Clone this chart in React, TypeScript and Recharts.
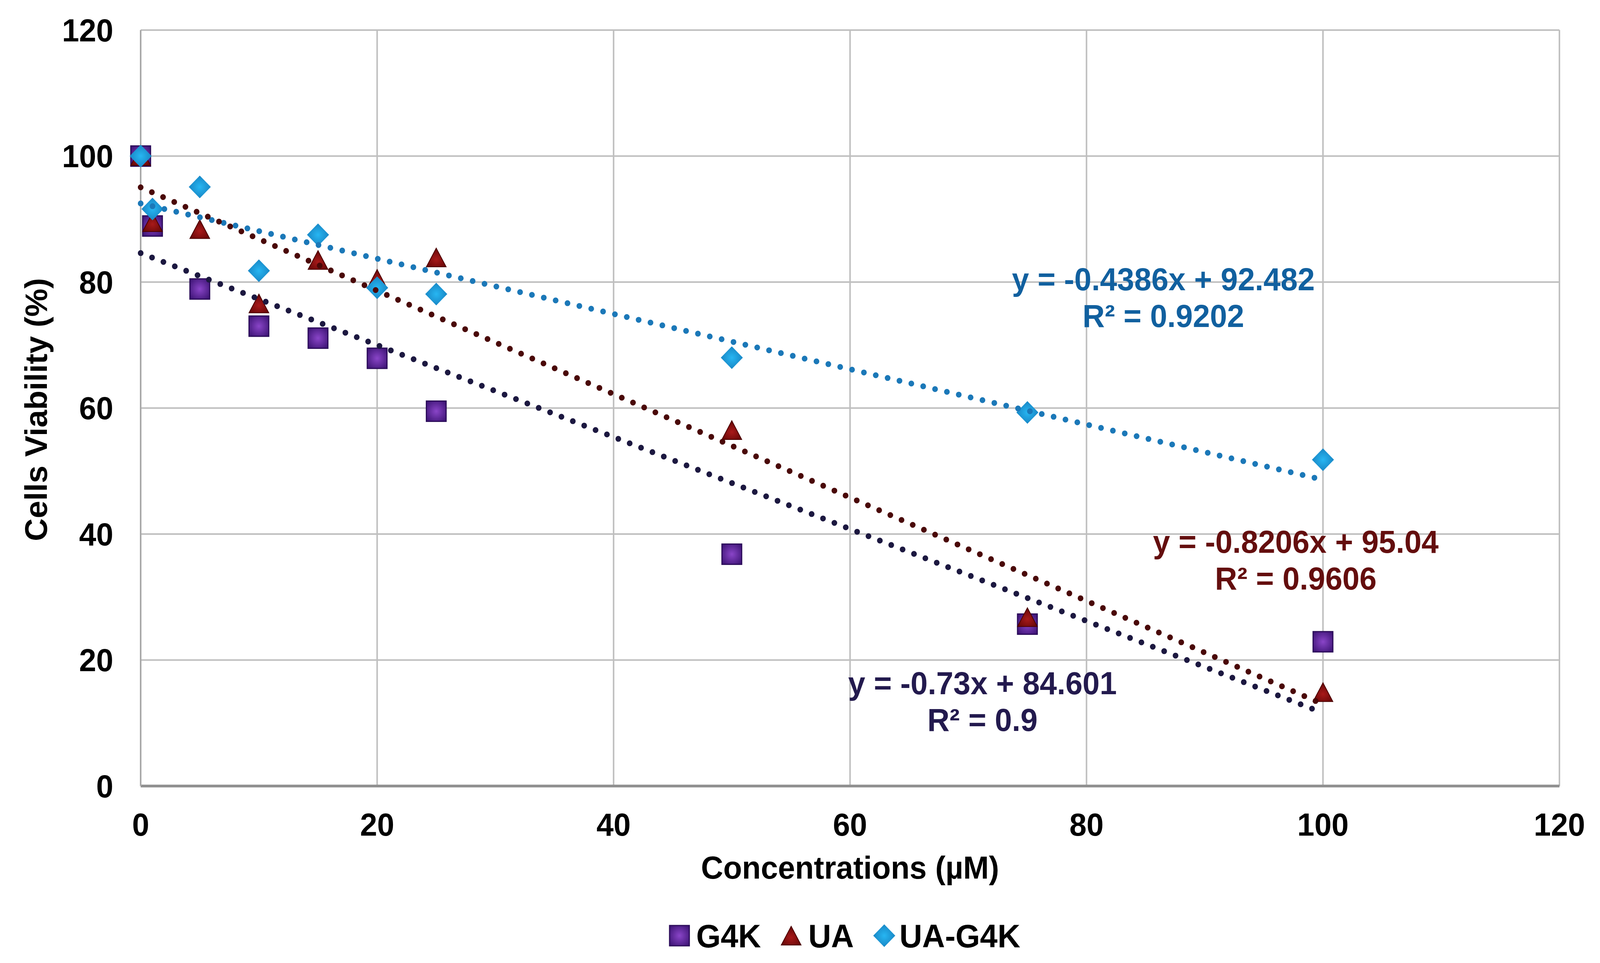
import React from "react";
import {
  ScatterChart,
  Scatter,
  XAxis,
  YAxis,
  CartesianGrid,
  ReferenceDot,
  Label,
} from "recharts";

// concentrations (µM)
const CONC = [0, 1, 5, 10, 15, 20, 25, 50, 75, 100];

// cell viability (%)
const G4K = [100, 88.9, 78.9, 73.0, 71.1, 67.9, 59.5, 36.8, 25.7, 22.9];
const UA = [100, 89.5, 88.4, 76.6, 83.5, 80.5, 83.9, 56.5, 26.8, 14.9];
const UA_G4K = [100, 91.6, 95.1, 81.8, 87.5, 79.1, 78.1, 68.0, 59.3, 51.8];

// linear trendline ends (x = 0 and x = 100)
const TREND_X = [0, 100];
const G4K_TREND = [84.6, 11.6];
const UA_TREND = [95.04, 12.98];
const UA_G4K_TREND = [92.48, 48.62];

const TICKS = [0, 20, 40, 60, 80, 100, 120];

const EQUATIONS = [
  { x: 86.5, y: 80.5, line1: "y = -0.4386x + 92.482", line2: "R² = 0.9202", color: "#11609f" },
  { x: 97.7, y: 38.8, line1: "y = -0.8206x + 95.04", line2: "R² = 0.9606", color: "#640e0e" },
  { x: 71.2, y: 16.4, line1: "y = -0.73x + 84.601", line2: "R² = 0.9", color: "#231a4e" },
];

const FONT = "'Liberation Sans', Arial, Helvetica, sans-serif";
const W = 4195;
const H = 2449;
// the captured page is narrower than the layout; squeeze horizontally so the whole chart shows
const SQUEEZE = 4096 / 4211;

const toPoints = (xs: number[], ys: number[]) => xs.map((x, i) => ({ x, y: ys[i] }));

function Gradients() {
  return (
    <defs>
      <radialGradient id="gSquare" cx="50%" cy="50%" r="65%">
        <stop offset="0%" stopColor="#8a45c8" />
        <stop offset="100%" stopColor="#3d1475" />
      </radialGradient>
      <radialGradient id="gTri" cx="50%" cy="60%" r="65%">
        <stop offset="0%" stopColor="#a81a1a" />
        <stop offset="100%" stopColor="#5e0404" />
      </radialGradient>
      <radialGradient id="gDia" cx="50%" cy="50%" r="65%">
        <stop offset="0%" stopColor="#27b6f2" />
        <stop offset="100%" stopColor="#1479b8" />
      </radialGradient>
    </defs>
  );
}

function SquareMark({ cx, cy }: any) {
  const s = 52;
  return <rect x={cx - s / 2} y={cy - s / 2} width={s} height={s} fill="url(#gSquare)" stroke="#2c0c5a" strokeWidth={3} />;
}

function TriangleMark({ cx, cy }: any) {
  const w = 52;
  const h = 48;
  const d = `M${cx},${cy - h / 2} L${cx + w / 2},${cy + h / 2} L${cx - w / 2},${cy + h / 2} Z`;
  return <path d={d} fill="url(#gTri)" stroke="#4a0000" strokeWidth={2} />;
}

function DiamondMark({ cx, cy }: any) {
  const r = 29;
  const d = `M${cx},${cy - r} L${cx + r},${cy} L${cx},${cy + r} L${cx - r},${cy} Z`;
  return <path d={d} fill="url(#gDia)" />;
}

function EqLabel({ cx, cy, line1, line2, color }: any) {
  return (
    <g>
      <text x={cx} y={cy + 29} textAnchor="middle" fill={color} fontFamily={FONT} fontWeight="bold" fontSize={81}>
        {line1}
      </text>
      <text x={cx} y={cy + 29 + 94} textAnchor="middle" fill={color} fontFamily={FONT} fontWeight="bold" fontSize={81}>
        {line2}
      </text>
    </g>
  );
}

function XTick({ x, y, payload }: any) {
  return (
    <text x={x} y={y + 127} textAnchor="middle" fill="#000" fontFamily={FONT} fontWeight="bold" fontSize={81}>
      {payload.value}
    </text>
  );
}

function YTick({ x, y, payload }: any) {
  return (
    <text x={x - 72} y={y + 29} textAnchor="end" fill="#000" fontFamily={FONT} fontWeight="bold" fontSize={81}>
      {payload.value}
    </text>
  );
}

const noShape = () => <g />;

const dotted = (stroke: string) => ({
  stroke,
  strokeWidth: 15,
  strokeDasharray: "0 32",
  strokeLinecap: "round" as const,
});

function LegendBox() {
  const txt = { fontFamily: FONT, fontWeight: "bold" as const, fontSize: 83, fill: "#000" };
  const cy = 2387;
  return (
    <svg width={W} height={H} style={{ position: "absolute", left: 0, top: 0, pointerEvents: "none" }}>
      <SquareMark cx={1780} cy={cy} />
      <text x={1824} y={cy + 30} {...txt}>G4K</text>
      <TriangleMark cx={2074} cy={cy} />
      <text x={2119} y={cy + 30} {...txt}>UA</text>
      <DiamondMark cx={2319} cy={cy} />
      <text x={2359} y={cy + 30} {...txt}>UA-G4K</text>
    </svg>
  );
}

export default function App() {
  return (
    <div style={{ width: Math.floor(W * SQUEEZE), height: H, overflow: "hidden" }}>
      <div
        style={{
          position: "relative",
          width: W,
          height: H,
          background: "#fff",
          transform: `scaleX(${SQUEEZE})`,
          transformOrigin: "0 0",
        }}
      >
        <ScatterChart width={W} height={H} margin={{ top: 69, right: 99, bottom: 0, left: 0 }}>
          <Gradients />
          <CartesianGrid stroke="#bfbfbf" strokeWidth={4} horizontalValues={TICKS} verticalValues={TICKS} />
          <XAxis
            type="number"
            dataKey="x"
            domain={[0, 120]}
            ticks={TICKS}
            height={445}
            tickSize={0}
            tickMargin={0}
            tick={<XTick />}
            axisLine={{ stroke: "#8f8f8f", strokeWidth: 7 }}
            interval={0}
          >
            <Label
              content={({ viewBox }: any) => (
                <text
                  x={viewBox.x + viewBox.width / 2}
                  y={2241}
                  textAnchor="middle"
                  fill="#000"
                  fontFamily={FONT}
                  fontWeight="bold"
                  fontSize={81}
                >
                  Concentrations (µM)
                </text>
              )}
            />
          </XAxis>
          <YAxis
            type="number"
            dataKey="y"
            domain={[0, 120]}
            ticks={TICKS}
            width={362}
            tickSize={0}
            tickMargin={0}
            tick={<YTick />}
            axisLine={{ stroke: "#a8a8a8", strokeWidth: 4 }}
            interval={0}
          >
            <Label
              content={({ viewBox }: any) => {
                const cx = 86;
                const cy = viewBox.y + viewBox.height / 2 + 4;
                return (
                  <text
                    x={cx}
                    y={cy}
                    dy={29}
                    transform={`rotate(-90, ${cx}, ${cy})`}
                    textAnchor="middle"
                    fill="#000"
                    fontFamily={FONT}
                    fontWeight="bold"
                    fontSize={81}
                  >
                    Cells Viability (%)
                  </text>
                );
              }}
            />
          </YAxis>

          <Scatter name="G4K" data={toPoints(CONC, G4K)} shape={<SquareMark />} isAnimationActive={false} />
          <Scatter name="UA" data={toPoints(CONC, UA)} shape={<TriangleMark />} isAnimationActive={false} />
          <Scatter name="UA-G4K" data={toPoints(CONC, UA_G4K)} shape={<DiamondMark />} isAnimationActive={false} />

          <Scatter data={toPoints(TREND_X, UA_G4K_TREND)} line={dotted("#1b78b8")} shape={noShape} isAnimationActive={false} />
          <Scatter data={toPoints(TREND_X, UA_TREND)} line={dotted("#4a0808")} shape={noShape} isAnimationActive={false} />
          <Scatter data={toPoints(TREND_X, G4K_TREND)} line={dotted("#1c1840")} shape={noShape} isAnimationActive={false} />

          {EQUATIONS.map((e) => (
            <ReferenceDot
              key={e.line1}
              x={e.x}
              y={e.y}
              r={0}
              shape={(p: any) => <EqLabel cx={p.cx} cy={p.cy} line1={e.line1} line2={e.line2} color={e.color} />}
            />
          ))}
        </ScatterChart>
        <LegendBox />
      </div>
    </div>
  );
}
